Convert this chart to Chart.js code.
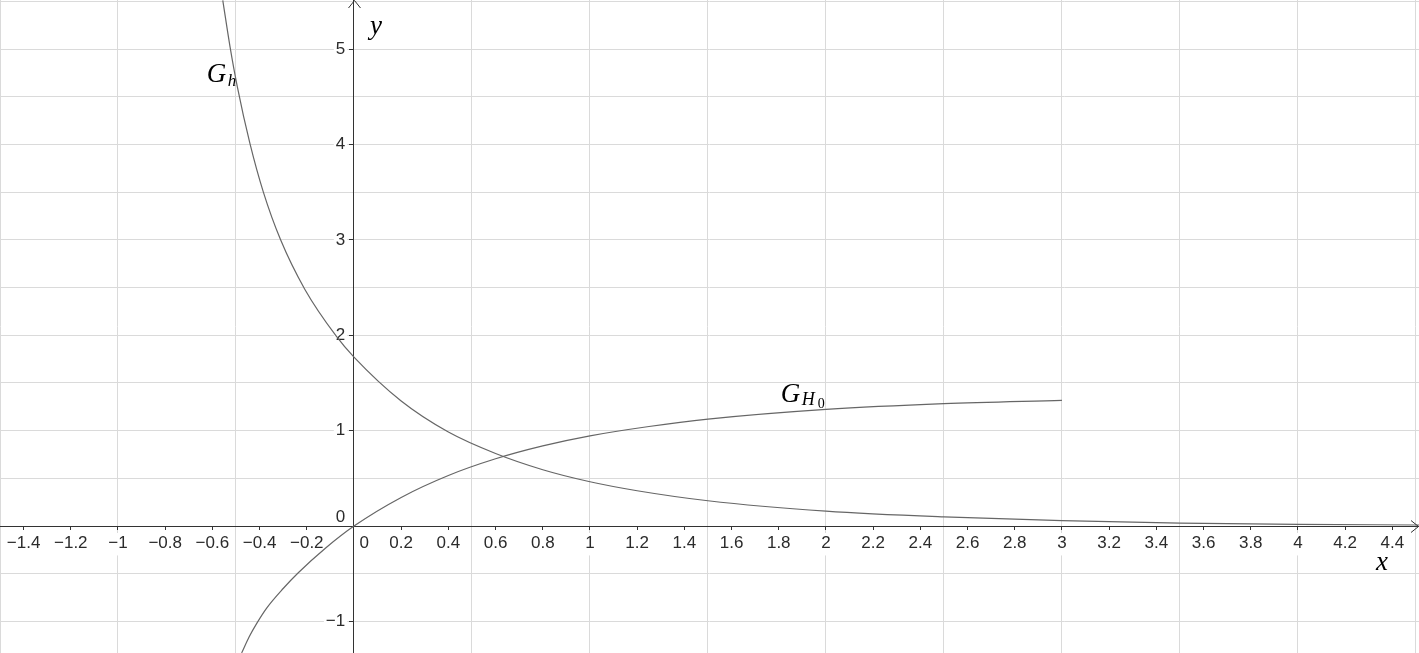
<!DOCTYPE html>
<html>
<head>
<meta charset="utf-8">
<script src="https://cdn.jsdelivr.net/npm/chart.js@4.4.1/dist/chart.umd.min.js"></script>
<style>
  html, body { margin: 0; padding: 0; background: #fff; overflow: hidden; }
  canvas { display: block; }
</style>
</head>
<body>
<canvas id="graph" width="1419" height="653"></canvas>
<script>
// view window (GeoGebra style graphics view)
const xMin = -1.5, xMax = 4.513
const yMin = -1.331, yMax = 5.514

// grid lines every 0.5
const gridX = [-1.5, -1, -0.5, 0, 0.5, 1, 1.5, 2, 2.5, 3, 3.5, 4, 4.5]
const gridY = [-1, -0.5, 0, 0.5, 1, 1.5, 2, 2.5, 3, 3.5, 4, 4.5, 5, 5.5]

// tick values and labels
const xTicks = [-1.4, -1.2, -1, -0.8, -0.6, -0.4, -0.2, 0, 0.2, 0.4, 0.6, 0.8, 1, 1.2, 1.4, 1.6, 1.8, 2, 2.2, 2.4, 2.6, 2.8, 3, 3.2, 3.4, 3.6, 3.8, 4, 4.2, 4.4]
const xTickLabels = ['−1.4', '−1.2', '−1', '−0.8', '−0.6', '−0.4', '−0.2', '\u2003\u20090', '0.2', '0.4', '0.6', '0.8', '1', '1.2', '1.4', '1.6', '1.8', '2', '2.2', '2.4', '2.6', '2.8', '3', '3.2', '3.4', '3.6', '3.8', '4', '4.2', '4.4']
const yTicks = [-1, 0, 1, 2, 3, 4, 5]
const yTickLabels = ['−1', ['0', ''], '1', '2', '3', '4', '5']

// G_h (decreasing curve)
const ghX = [-0.556, -0.525, -0.494, -0.441, -0.384, -0.311, -0.208, -0.075, 0, 0.2, 0.4, 0.6, 0.8, 1, 1.2, 1.5, 2, 2.5, 3, 3.5, 4, 4.513]
const ghY = [5.51, 5.02, 4.60, 4.01, 3.50, 3.00, 2.48, 1.99, 1.77, 1.31, 0.985, 0.76, 0.59, 0.464, 0.37, 0.265, 0.156, 0.095, 0.056, 0.031, 0.018, 0.011]

// G_H0 (increasing curve, ends at x = 3)
const gH0X = [-0.476, -0.444, -0.412, -0.37, -0.3, -0.236, -0.12, 0, 0.2, 0.4, 0.6, 0.8, 1, 1.25, 1.5, 2, 2.5, 3]
const gH0Y = [-1.33, -1.16, -1.02, -0.86, -0.655, -0.49, -0.23, 0, 0.30, 0.53, 0.705, 0.84, 0.945, 1.043, 1.12, 1.222, 1.283, 1.318]

const toPoints = (xs, ys) => xs.map((v, i) => ({x: v, y: ys[i]}))

const zeroSize = s => {
  if (s.isHorizontal()) s.height = 0
  else s.width = 0
  s.paddingLeft = 0; s.paddingRight = 0; s.paddingTop = 0; s.paddingBottom = 0
}

const axisColor = '#333333'
const labelColor = '#2b2b2b'
const curveColor = '#666666'
const gridColor = '#dadada'
const tickFont = { family: '"Liberation Sans", Arial, sans-serif', size: 17 }

// arrows at the axis ends, axis names and curve names
const decor = {
  id: 'decor',
  afterDatasetsDraw(chart) {
    const {ctx, chartArea, scales: {x, y}} = chart
    const ox = Math.round(x.getPixelForValue(0)) + 0.5
    const oy = Math.round(y.getPixelForValue(0)) + 0.5
    ctx.save()
    ctx.strokeStyle = axisColor
    ctx.lineWidth = 1
    ctx.beginPath()
    ctx.moveTo(chartArea.right - 8, oy - 6)
    ctx.lineTo(chartArea.right - 0.5, oy)
    ctx.lineTo(chartArea.right - 8, oy + 6)
    ctx.moveTo(ox - 6, chartArea.top + 8)
    ctx.lineTo(ox, chartArea.top + 0.5)
    ctx.lineTo(ox + 6, chartArea.top + 8)
    ctx.stroke()

    ctx.fillStyle = '#000'
    ctx.textBaseline = 'alphabetic'
    ctx.textAlign = 'left'
    const serif = '"Liberation Serif", "DejaVu Serif", serif'

    // axis names
    ctx.font = 'italic 27px ' + serif
    ctx.fillText('y', x.getPixelForValue(0.068), y.getPixelForValue(5.157))
    ctx.fillText('x', x.getPixelForValue(4.331), y.getPixelForValue(-0.461))

    // G_h
    let px = x.getPixelForValue(-0.624), py = y.getPixelForValue(4.654)
    ctx.font = 'italic 27px ' + serif
    ctx.fillText('G', px, py)
    ctx.font = 'italic 17px ' + serif
    ctx.fillText('h', px + 21, py + 4)

    // G_H0
    px = x.getPixelForValue(1.808); py = y.getPixelForValue(1.303)
    ctx.font = 'italic 27px ' + serif
    ctx.fillText('G', px, py)
    ctx.font = 'italic 18px ' + serif
    ctx.fillText('H', px + 21, py + 3)
    ctx.font = '14px ' + serif
    ctx.fillText('0', px + 37, py + 6.5)
    ctx.restore()
  }
}

const lineSet = (label, pts) => ({
  type: 'line',
  label: label,
  data: pts,
  borderColor: curveColor,
  borderWidth: 1.2,
  pointRadius: 0,
  fill: false,
  cubicInterpolationMode: 'monotone'
})

new Chart(document.getElementById('graph'), {
  type: 'line',
  data: {
    datasets: [
      lineSet('G_h', toPoints(ghX, ghY)),
      lineSet('G_H0', toPoints(gH0X, gH0Y))
    ]
  },
  options: {
    responsive: false,
    animation: false,
    devicePixelRatio: 1,
    layout: { padding: 0 },
    plugins: { legend: { display: false }, tooltip: { enabled: false } },
    events: [],
    scales: {
      gx: {
        type: 'linear', position: 'bottom', min: xMin, max: xMax,
        afterBuildTicks: s => { s.ticks = gridX.map(v => ({value: v})) },
        ticks: { display: false },
        grid: { color: gridColor, drawTicks: false, z: -2 },
        border: { display: false },
        afterFit: zeroSize
      },
      gy: {
        type: 'linear', position: 'left', min: yMin, max: yMax,
        afterBuildTicks: s => { s.ticks = gridY.map(v => ({value: v})) },
        ticks: { display: false },
        grid: { color: gridColor, drawTicks: false, z: -2 },
        border: { display: false },
        afterFit: zeroSize
      },
      x: {
        type: 'linear', position: { y: 0 }, min: xMin, max: xMax,
        afterBuildTicks: s => { s.ticks = xTicks.map(v => ({value: v})) },
        ticks: {
          autoSkip: false, maxRotation: 0, padding: 4,
          color: labelColor,
          font: tickFont,
          callback: v => xTickLabels[xTicks.indexOf(v)],
          showLabelBackdrop: c => c.tick ? c.tick.value !== 0 : true,
          backdropColor: '#ffffff',
          backdropPadding: { top: 0, bottom: 2, left: 2, right: 2 }
        },
        grid: { drawOnChartArea: false, drawTicks: true, tickLength: 3, tickColor: axisColor },
        border: { display: true, color: axisColor, width: 1 },
        afterFit: zeroSize
      },
      // y axis line and tick marks
      y: {
        type: 'linear', position: { x: 0 }, min: yMin, max: yMax,
        afterBuildTicks: s => { s.ticks = yTicks.map(v => ({value: v})) },
        ticks: { display: false },
        grid: { drawOnChartArea: false, drawTicks: true, tickLength: 4, tickColor: axisColor },
        border: { display: true, color: axisColor, width: 1 },
        afterFit: zeroSize
      },
      // y tick labels, set a little left of the axis
      yLab: {
        type: 'linear', position: { x: -0.037 }, min: yMin, max: yMax,
        afterBuildTicks: s => { s.ticks = yTicks.map(v => ({value: v})) },
        ticks: {
          autoSkip: false, padding: 0,
          color: labelColor,
          font: Object.assign({ lineHeight: 1 }, tickFont),
          callback: v => yTickLabels[yTicks.indexOf(v)],
          showLabelBackdrop: c => c.tick ? c.tick.value !== 0 : true,
          backdropColor: '#ffffff',
          backdropPadding: 2
        },
        grid: { display: false, drawTicks: false },
        border: { display: false },
        afterFit: zeroSize
      }
    }
  },
  plugins: [decor]
})
</script>
</body>
</html>
